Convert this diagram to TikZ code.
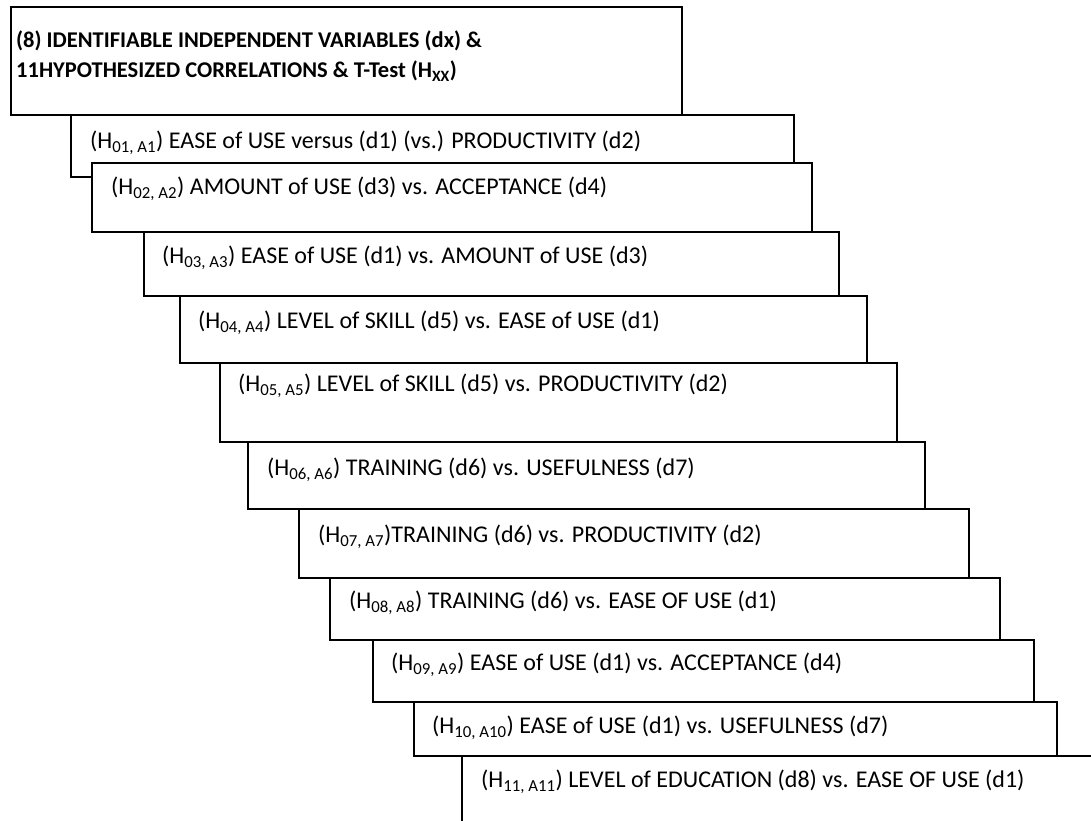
\documentclass[tikz,border=0pt]{standalone}
\usepackage{fontspec}
\setmainfont{Carlito}
\begin{document}
\begin{tikzpicture}[x=1pt,y=-1pt,
  hbox/.style={draw, line width=1.6pt, fill=white, rectangle, anchor=north west, inner sep=0pt},
  htext/.style={anchor=west, inner sep=0pt, font=\fontsize{24}{28}\selectfont},
  ttext/.style={anchor=north west, inner sep=0pt, align=left, font=\fontsize{22.5}{30}\selectfont\bfseries}]
\useasboundingbox (0,0) rectangle (1091,820);
\clip (0,0) rectangle (1091,820);
\fill[white] (0,0) rectangle (1091,820);
% title
\node[hbox, minimum width=671pt, minimum height=108pt] (b0) at (10,6) {};
\node[ttext] (t0) at (16,31) {(8) IDENTIFIABLE INDEPENDENT VARIABLES (dx) \&\\11HYPOTHESIZED CORRELATIONS \& T-Test (H\textsubscript{XX})};
% boxes
\node[hbox, minimum width=723pt, minimum height=62pt] (b1) at (70,114) {};
\node[htext] (t1) at (90,143) {(H\textsubscript{01, A1}) EASE of USE versus (d1) (vs.) PRODUCTIVITY (d2)};
\node[hbox, minimum width=720pt, minimum height=69pt] (b2) at (91,162) {};
\node[htext] (t2) at (111,189) {(H\textsubscript{02, A2}) AMOUNT of USE (d3) vs. ACCEPTANCE (d4)};
\node[hbox, minimum width=695pt, minimum height=64pt] (b3) at (143,231) {};
\node[htext] (t3) at (162,258) {(H\textsubscript{03, A3}) EASE of USE (d1) vs. AMOUNT of USE (d3)};
\node[hbox, minimum width=687pt, minimum height=67pt] (b4) at (179,295) {};
\node[htext] (t4) at (198,323) {(H\textsubscript{04, A4}) LEVEL of SKILL (d5) vs. EASE of USE (d1)};
\node[hbox, minimum width=677pt, minimum height=79pt] (b5) at (219,362) {};
\node[htext] (t5) at (238,386) {(H\textsubscript{05, A5}) LEVEL of SKILL (d5) vs. PRODUCTIVITY (d2)};
\node[hbox, minimum width=677pt, minimum height=67pt] (b6) at (247,441) {};
\node[htext] (t6) at (267,470) {(H\textsubscript{06, A6}) TRAINING (d6) vs. USEFULNESS (d7)};
\node[hbox, minimum width=670pt, minimum height=69pt] (b7) at (298,508) {};
\node[htext] (t7) at (318,537) {(H\textsubscript{07, A7})TRAINING (d6) vs. PRODUCTIVITY (d2)};
\node[hbox, minimum width=670pt, minimum height=62pt] (b8) at (329,577) {};
\node[htext] (t8) at (349,603) {(H\textsubscript{08, A8}) TRAINING (d6) vs. EASE OF USE (d1)};
\node[hbox, minimum width=661pt, minimum height=62pt] (b9) at (372,639) {};
\node[htext] (t9) at (391,665) {(H\textsubscript{09, A9}) EASE of USE (d1) vs. ACCEPTANCE (d4)};
\node[hbox, minimum width=643pt, minimum height=54pt] (b10) at (413,701) {};
\node[htext] (t10) at (432,728) {(H\textsubscript{10, A10}) EASE of USE (d1) vs. USEFULNESS (d7)};
\node[hbox, minimum width=660pt, minimum height=90pt] (b11) at (461,755) {};
\node[htext] (t11) at (481,782) {(H\textsubscript{11, A11}) LEVEL of EDUCATION (d8) vs. EASE OF USE (d1)};
\end{tikzpicture}
\end{document}
